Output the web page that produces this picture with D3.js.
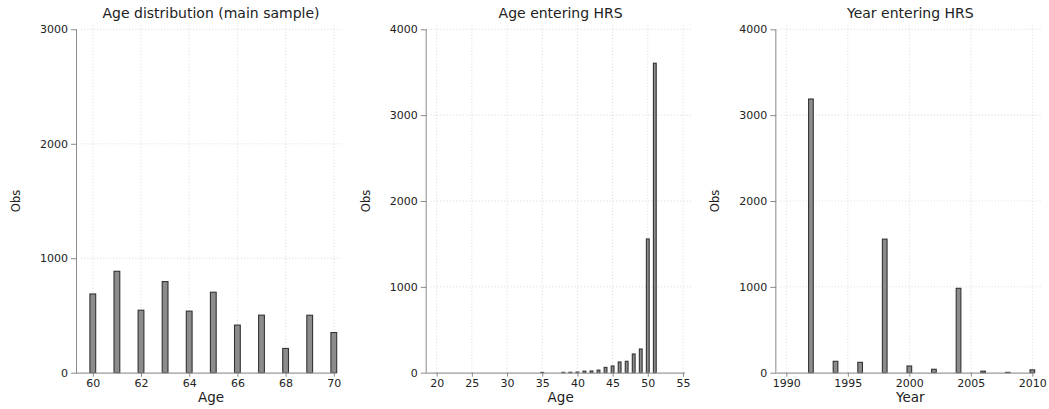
<!DOCTYPE html>
<html>
<head>
<meta charset="utf-8">
<script src="https://cdn.jsdelivr.net/npm/d3@7"></script>
<style>
  html, body { margin: 0; padding: 0; background: #fff; }
  svg { display: block; font-family: "DejaVu Sans", Verdana, sans-serif; }
</style>
</head>
<body>
<svg id="chart" width="1049" height="409"></svg>
<script>
// Panel 1: age distribution of the main sample
const mainAges = [60, 61, 62, 63, 64, 65, 66, 67, 68, 69, 70];
const mainObs  = [688, 886, 546, 796, 538, 703, 416, 503, 212, 502, 351];
const mainXTicks = [60, 62, 64, 66, 68, 70];
const mainYTicks = [0, 1000, 2000, 3000];

// Panel 2: age when entering HRS
const entryAges = [35, 38, 39, 40, 41, 42, 43, 44, 45, 46, 47, 48, 49, 50, 51];
const entryAgeObs = [3, 4, 5, 7, 18, 20, 30, 62, 78, 125, 133, 218, 276, 1558, 3605];
const entryAgeXTicks = [20, 25, 30, 35, 40, 45, 50, 55];
const entryAgeYTicks = [0, 1000, 2000, 3000, 4000];

// Panel 3: calendar year when entering HRS
const entryYears = [1992, 1994, 1996, 1998, 2000, 2002, 2004, 2006, 2008, 2010];
const entryYearObs = [3188, 133, 121, 1556, 78, 40, 983, 18, 4, 33];
const entryYearXTicks = [1990, 1995, 2000, 2005, 2010];
const entryYearYTicks = [0, 1000, 2000, 3000, 4000];

const panels = [
  { title: "Age distribution (main sample)", xTitle: "Age",
    xs: mainAges, ys: mainObs, xDomain: [60, 70], xRange: [92.8, 333.8],
    xTicks: mainXTicks, yTicks: mainYTicks, barW: 0.24 },
  { title: "Age entering HRS", xTitle: "Age",
    xs: entryAges, ys: entryAgeObs, xDomain: [20, 55], xRange: [87, 333.3],
    xTicks: entryAgeXTicks, yTicks: entryAgeYTicks, barW: 0.4 },
  { title: "Year entering HRS", xTitle: "Year",
    xs: entryYears, ys: entryYearObs, xDomain: [1990, 2010], xRange: [87, 333],
    xTicks: entryYearXTicks, yTicks: entryYearYTicks, barW: 0.38 }
];

const svg = d3.select("#chart");
const panelW = 1049 / 3;
const axisX = 77, plotRight = 343, yBottom = 372.7, yTop = 29.3;

panels.forEach((p, i) => {
  const g = svg.append("g").attr("transform", `translate(${i * panelW},0)`);
  const x = d3.scaleLinear().domain(p.xDomain).range(p.xRange);
  const y = d3.scaleLinear().domain([0, d3.max(p.yTicks)]).range([yBottom, yTop]);
  const cx = (axisX + plotRight) / 2 + 1;

  // dotted grid
  const grid = g.append("g").attr("stroke", "#cfcfcf").attr("stroke-width", 0.8)
    .attr("stroke-dasharray", "1,2.2");
  grid.selectAll(".gy").data(p.yTicks.filter(v => v > 0)).join("line")
    .attr("x1", axisX + 4).attr("x2", plotRight)
    .attr("y1", d => y(d)).attr("y2", d => y(d));
  grid.selectAll(".gx").data(p.xTicks).join("line")
    .attr("x1", d => x(d)).attr("x2", d => x(d))
    .attr("y1", yTop - 4).attr("y2", yBottom);

  // bars
  const bw = Math.abs(x(p.xDomain[0] + p.barW) - x(p.xDomain[0]));
  g.append("g").selectAll("rect").data(p.xs.map((v, k) => [v, p.ys[k]])).join("rect")
    .attr("x", d => x(d[0]) - bw / 2)
    .attr("width", bw)
    .attr("y", d => y(d[1]))
    .attr("height", d => yBottom - y(d[1]))
    .attr("fill", "#8c8c8c")
    .attr("stroke", "#333")
    .attr("stroke-width", 1.1);

  // y axis
  const yAxis = d3.axisLeft(y).tickValues(p.yTicks).tickSize(6).tickPadding(3)
    .tickFormat(d3.format("d"));
  const ya = g.append("g").attr("transform", `translate(${axisX},0)`).call(yAxis);
  ya.select(".domain").attr("stroke", "#8a8a8a").attr("d", `M-0.5,${yTop}V${yBottom + 0.5}`);
  ya.selectAll(".tick line").attr("stroke", "#8a8a8a");
  ya.selectAll(".tick text").attr("fill", "#222").attr("font-size", "11px")
    .attr("font-family", "DejaVu Sans");

  // x axis
  const xAxis = d3.axisBottom(x).tickValues(p.xTicks).tickSize(4).tickPadding(3)
    .tickFormat(d3.format("d"));
  const xa = g.append("g").attr("transform", `translate(0,${yBottom})`).call(xAxis);
  xa.select(".domain").attr("stroke", "#9a9a9a").attr("stroke-width", 1.3)
    .attr("d", `M${axisX},0.5H${p.xRange[1] + 2}`);
  xa.selectAll(".tick line").attr("stroke", "#8a8a8a");
  xa.selectAll(".tick text").attr("fill", "#222").attr("font-size", "11px")
    .attr("font-family", "DejaVu Sans");

  // titles
  g.append("text").attr("x", cx).attr("y", 17.5).attr("text-anchor", "middle")
    .attr("font-size", "14px").attr("fill", "#222").text(p.title);
  g.append("text").attr("x", cx).attr("y", 402).attr("text-anchor", "middle")
    .attr("font-size", "13.5px").attr("fill", "#222").text(p.xTitle);
  g.append("text").attr("transform", `translate(20,${(yTop + yBottom) / 2}) rotate(-90)`)
    .attr("text-anchor", "middle").attr("font-size", "11.5px").attr("fill", "#222")
    .text("Obs");
});
</script>
</body>
</html>
